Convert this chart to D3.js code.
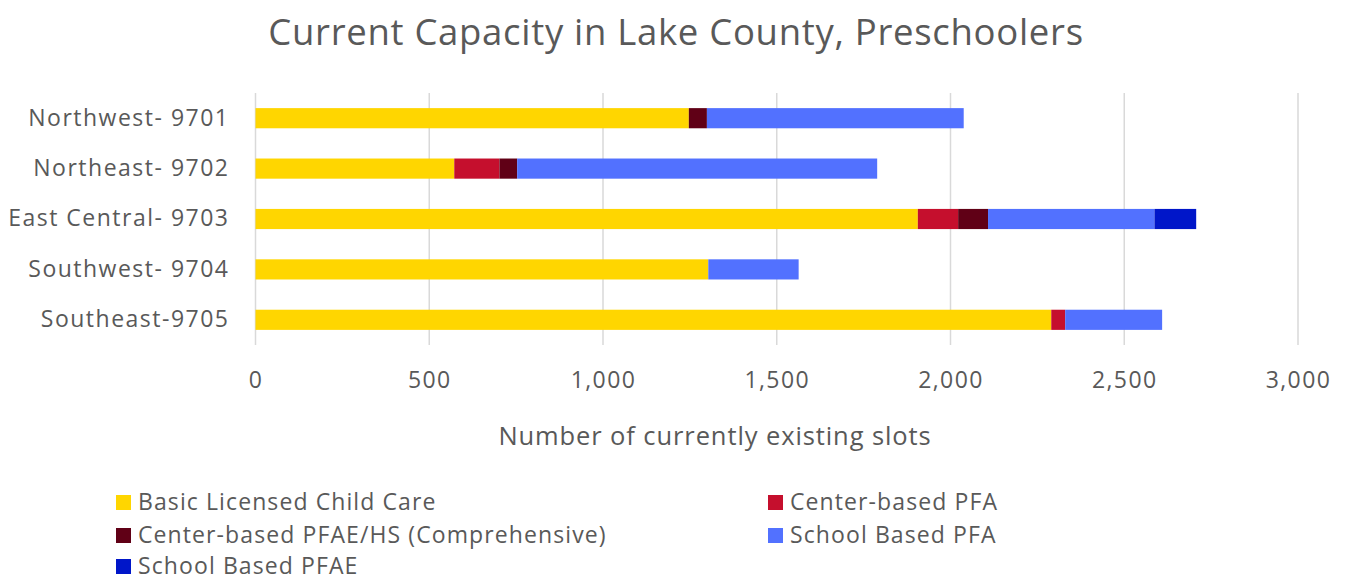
<!DOCTYPE html>
<html>
<head>
<meta charset="utf-8">
<script src="https://cdn.jsdelivr.net/npm/d3@7"></script>
<style>
  html, body { margin: 0; padding: 0; background: #fff; }
  svg { display: block; font-family: "Open Sans", Lato, sans-serif; }
</style>
</head>
<body>
<svg id="chart" width="1345" height="583"></svg>
<script>
// Preschool slot capacity by region, stacked by program type
const regions = ["Northwest- 9701", "Northeast- 9702", "East Central- 9703", "Southwest- 9704", "Southeast-9705"];
const seriesNames = ["Basic Licensed Child Care", "Center-based PFA", "Center-based PFAE/HS (Comprehensive)", "School Based PFA", "School Based PFAE"];
const basicLicensed   = [1247, 572, 1906, 1303, 2290];
const centerPFA       = [0, 130, 116, 0, 40];
const centerPFAE      = [52, 51, 86, 0, 0];
const schoolPFA       = [739, 1036, 479, 260, 279];
const schoolPFAE      = [0, 0, 120, 0, 0];
const tickValues = [0, 500, 1000, 1500, 2000, 2500, 3000];
const colors = ["#FFD600", "#C50F2D", "#600016", "#5271FF", "#0016C9"];

const seriesValues = [basicLicensed, centerPFA, centerPFAE, schoolPFA, schoolPFAE];
const rows = regions.map((r, i) => {
  const o = { region: r };
  seriesNames.forEach((s, k) => { o[s] = seriesValues[k][i]; });
  return o;
});

const svg = d3.select("#chart");
const margin = { left: 255.5, right: 47, top: 93, bottom: 238 };
const W = 1345, H = 583;
const textColor = "#595959";
const fontFamily = "'Open Sans', Lato, sans-serif";

const x = d3.scaleLinear().domain([0, 3000]).range([margin.left, W - margin.right]);
const y = d3.scaleBand().domain(regions).range([margin.top, H - margin.bottom]).paddingInner(0.6).paddingOuter(0.3);

// Title
svg.append("text")
  .attr("x", 676).attr("y", 45)
  .attr("text-anchor", "middle")
  .attr("font-size", 36.5)
  .attr("letter-spacing", 0.7)
  .attr("fill", textColor)
  .text("Current Capacity in Lake County, Preschoolers");

// Vertical gridlines
svg.append("g")
  .selectAll("line")
  .data(tickValues)
  .join("line")
  .attr("x1", d => x(d)).attr("x2", d => x(d))
  .attr("y1", margin.top).attr("y2", H - margin.bottom)
  .attr("stroke", "#d9d9d9").attr("stroke-width", 1.5);

// Stacked bars
const stack = d3.stack().keys(seriesNames);
const layers = stack(rows);
svg.append("g")
  .selectAll("g")
  .data(layers)
  .join("g")
  .attr("fill", (d, i) => colors[i])
  .selectAll("rect")
  .data(d => d)
  .join("rect")
  .attr("x", d => x(d[0]))
  .attr("width", d => x(d[1]) - x(d[0]))
  .attr("y", d => y(d.data.region))
  .attr("height", y.bandwidth());

// X axis tick labels
const xAxis = d3.axisBottom(x).tickValues(tickValues).tickFormat(d3.format(",")).tickSize(0).tickPadding(0);
const gx = svg.append("g").attr("transform", `translate(0, ${H - margin.bottom + 27})`).call(xAxis);
gx.select(".domain").remove();
gx.selectAll("text")
  .attr("font-size", 23).attr("letter-spacing", 1.4)
  .attr("fill", textColor).attr("font-family", fontFamily);

// Y axis category labels
const yAxis = d3.axisLeft(y).tickSize(0).tickPadding(26);
const gy = svg.append("g").attr("transform", `translate(${margin.left}, 0)`).call(yAxis);
gy.select(".domain").remove();
gy.selectAll("text")
  .attr("font-size", 23).attr("letter-spacing", 1.5)
  .attr("fill", textColor).attr("font-family", fontFamily);

// Axis title
svg.append("text")
  .attr("x", 715).attr("y", 445)
  .attr("text-anchor", "middle")
  .attr("font-size", 25.5)
  .attr("letter-spacing", 0.9)
  .attr("fill", textColor)
  .text("Number of currently existing slots");

// Legend
const legendPos = [
  [118, 502], [770, 502],
  [118, 535], [770, 535],
  [118, 566]
];
const order = [0, 1, 2, 3, 4];
const lg = svg.append("g").selectAll("g").data(order).join("g")
  .attr("transform", d => `translate(${legendPos[d][0]}, ${legendPos[d][1]})`);
lg.append("rect").attr("x", -2).attr("y", -7).attr("width", 15).attr("height", 15).attr("fill", d => colors[d]);
lg.append("text").attr("x", 20).attr("y", 0).attr("dy", "0.35em")
  .attr("font-size", 23).attr("letter-spacing", 1.1).attr("fill", textColor)
  .text(d => seriesNames[d]);
</script>
</body>
</html>
